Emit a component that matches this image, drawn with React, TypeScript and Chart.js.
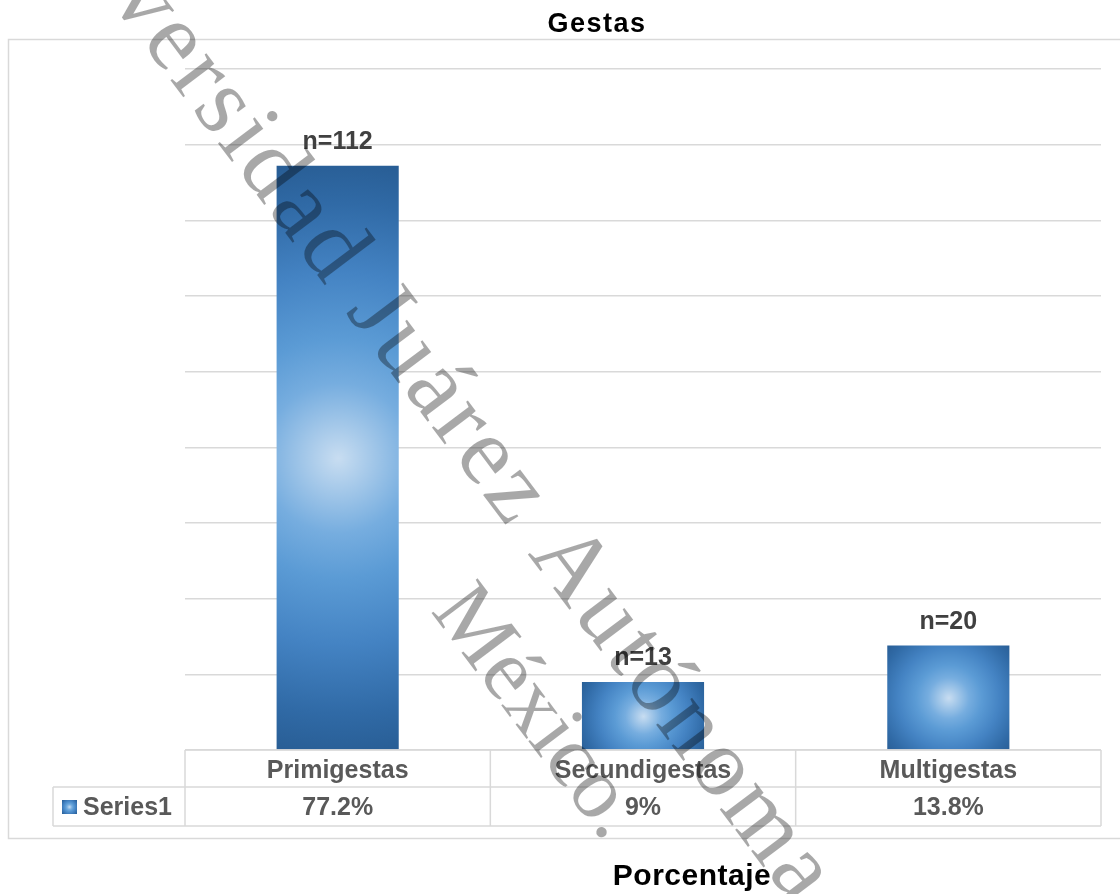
import React, { useEffect, useRef } from "react";
import { Chart, registerables } from "chart.js";

Chart.register(...registerables);

// ---- data ----
const categories = ["Primigestas", "Secundigestas", "Multigestas"];
const percentValues = [77.2, 9, 13.8];
const countLabels = ["n=112", "n=13", "n=20"];
const tableValueLabels = ["77.2%", "9%", "13.8%"];
const seriesName = "Series1";
const chartTitle = "Gestas";
const axisTitle = "Porcentaje";
const watermarkLines = ["Universidad Juárez Autónoma de", "México."];
const yMin = 0;
const yMax = 90;
const yStep = 10;

const BAR_PCT = 0.4;
const GRID = "#d9d9d9";

function fillGradient(c: CanvasRenderingContext2D, w: number, h: number) {
  const r = Math.sqrt(w * w + h * h) / 2;
  const g = c.createRadialGradient(w / 2, h / 2, 0, w / 2, h / 2, r);
  g.addColorStop(0, "#c8ddf1");
  g.addColorStop(0.25, "#76addf");
  g.addColorStop(0.4, "#5b9bd5");
  g.addColorStop(0.62, "#4483c3");
  g.addColorStop(0.85, "#306aa6");
  g.addColorStop(1, "#285d94");
  c.fillStyle = g;
  c.fillRect(0, 0, w, h);
}

function barPattern(ctx: CanvasRenderingContext2D, x0: number, y0: number, w: number, h: number) {
  const off = document.createElement("canvas");
  off.width = Math.max(1, Math.ceil(w) + 2);
  off.height = Math.max(1, Math.ceil(h) + 2);
  const c = off.getContext("2d")!;
  fillGradient(c, off.width, off.height);
  const p = ctx.createPattern(off, "no-repeat")!;
  p.setTransform(new DOMMatrix().translate(x0 - 1, y0 - 1));
  return p;
}

const tablePlugin = {
  id: "tablePlugin",
  beforeDraw(chart: any) {
    const ctx = chart.ctx as CanvasRenderingContext2D;
    ctx.save();
    ctx.fillStyle = "#ffffff";
    ctx.fillRect(0, 0, chart.width, chart.height);
    ctx.strokeStyle = GRID;
    ctx.lineWidth = 1.5;
    ctx.strokeRect(8.5, 39.5, 1300, 799);
    ctx.restore();
  },
  afterDatasetsDraw(chart: any) {
    const ctx = chart.ctx as CanvasRenderingContext2D;
    const xs = chart.scales.x;
    const area = chart.chartArea;
    const n = categories.length;
    const catW = (area.right - area.left) / n;
    const top = area.bottom;
    const headBottom = top + 37;
    const tableBottom = top + 76;
    const legendLeft = 53;

    ctx.save();
    // data labels
    const meta = chart.getDatasetMeta(0);
    ctx.font = "bold 25px 'Liberation Sans', Arial, sans-serif";
    ctx.fillStyle = "#404040";
    ctx.textAlign = "center";
    ctx.textBaseline = "alphabetic";
    meta.data.forEach((el: any, i: number) => {
      ctx.fillText(countLabels[i], el.x, el.y - 17);
    });

    // table lines
    ctx.strokeStyle = GRID;
    ctx.lineWidth = 1.5;
    ctx.beginPath();
    ctx.moveTo(area.left, top);
    ctx.lineTo(area.right, top);
    ctx.moveTo(legendLeft, headBottom);
    ctx.lineTo(area.right, headBottom);
    ctx.moveTo(legendLeft, tableBottom);
    ctx.lineTo(area.right, tableBottom);
    ctx.moveTo(legendLeft, headBottom);
    ctx.lineTo(legendLeft, tableBottom);
    for (let i = 0; i <= n; i++) {
      const x = area.left + i * catW;
      ctx.moveTo(x, top);
      ctx.lineTo(x, tableBottom);
    }
    ctx.stroke();

    // table text
    ctx.fillStyle = "#595959";
    ctx.font = "bold 25px 'Liberation Sans', Arial, sans-serif";
    ctx.textAlign = "center";
    categories.forEach((c, i) => {
      const cx = xs.getPixelForValue(i);
      ctx.fillText(c, cx, top + 28);
      ctx.fillText(tableValueLabels[i], cx, top + 65);
    });
    ctx.textAlign = "left";
    ctx.fillText(seriesName, 83, top + 65);
    // legend key
    ctx.save();
    ctx.translate(62, top + 50);
    fillGradient(ctx, 15, 14);
    ctx.restore();

    // titles
    ctx.fillStyle = "#000000";
    ctx.textAlign = "center";
    ctx.font = "bold 27px 'Liberation Sans', Arial, sans-serif";
    (ctx as any).letterSpacing = "1.5px";
    ctx.fillText(chartTitle, 597, 32);
    ctx.font = "bold 30px 'Liberation Sans', Arial, sans-serif";
    (ctx as any).letterSpacing = "0.5px";
    ctx.fillText(axisTitle, 692, 885);
    (ctx as any).letterSpacing = "0px";
    ctx.restore();
  },
  afterDraw(chart: any) {
    const ctx = chart.ctx as CanvasRenderingContext2D;
    ctx.save();
    ctx.beginPath();
    ctx.rect(0, 0, chart.width, chart.height);
    ctx.clip();
    ctx.font = "98px 'Liberation Serif', 'DejaVu Serif', serif";
    ctx.fillStyle = "rgba(0,0,0,0.34)";
    ctx.textBaseline = "alphabetic";
    ctx.textAlign = "left";
    ctx.translate(345, 312);
    ctx.rotate((53 * Math.PI) / 180);
    (ctx as any).letterSpacing = "4px";
    const pre = ctx.measureText("Universidad ").width;
    ctx.fillText(watermarkLines[0], -pre, 0);
    ctx.font = "88px 'Liberation Serif', 'DejaVu Serif', serif";
    (ctx as any).letterSpacing = "0px";
    ctx.fillText(watermarkLines[1], 290, 112);
    ctx.restore();
  },
};

export default function App() {
  const ref = useRef<HTMLCanvasElement | null>(null);
  useEffect(() => {
    if (!ref.current) return;
    const chart = new Chart(ref.current, {
      type: "bar",
      data: {
        labels: categories,
        datasets: [
          {
            label: seriesName,
            data: percentValues,
            barPercentage: BAR_PCT,
            categoryPercentage: 1,
            borderWidth: 0,
            backgroundColor: (c: any) => {
              const chart = c.chart;
              if (c.type !== "data" || !chart.chartArea) return "#5b9bd5";
              const xs = chart.scales.x;
              const ys = chart.scales.y;
              const catW = (chart.chartArea.right - chart.chartArea.left) / categories.length;
              const w = catW * BAR_PCT;
              const cx = xs.getPixelForValue(c.dataIndex);
              const t = ys.getPixelForValue(c.raw);
              const b = ys.getPixelForValue(0);
              return barPattern(chart.ctx, cx - w / 2, t, w, b - t);
            },
          },
        ],
      },
      options: {
        responsive: false,
        animation: false,
        devicePixelRatio: 1,
        layout: { padding: { left: 0, right: 19, top: 69, bottom: 144 } },
        plugins: {
          legend: { display: false },
          title: { display: false },
          tooltip: { enabled: false },
        },
        scales: {
          x: { display: false },
          y: {
            min: yMin,
            max: yMax,
            ticks: { display: false, stepSize: yStep },
            grid: { color: GRID, lineWidth: 1.5, drawTicks: false },
            border: { display: false },
            afterFit: (s: any) => {
              s.width = 185;
            },
          },
        },
      },
      plugins: [tablePlugin],
    });
    return () => chart.destroy();
  }, []);
  return (
    <div style={{ position: "absolute", left: 0, top: 0, width: 1120, height: 894 }}>
      <canvas ref={ref} width={1120} height={894} style={{ display: "block" }} />
    </div>
  );
}
